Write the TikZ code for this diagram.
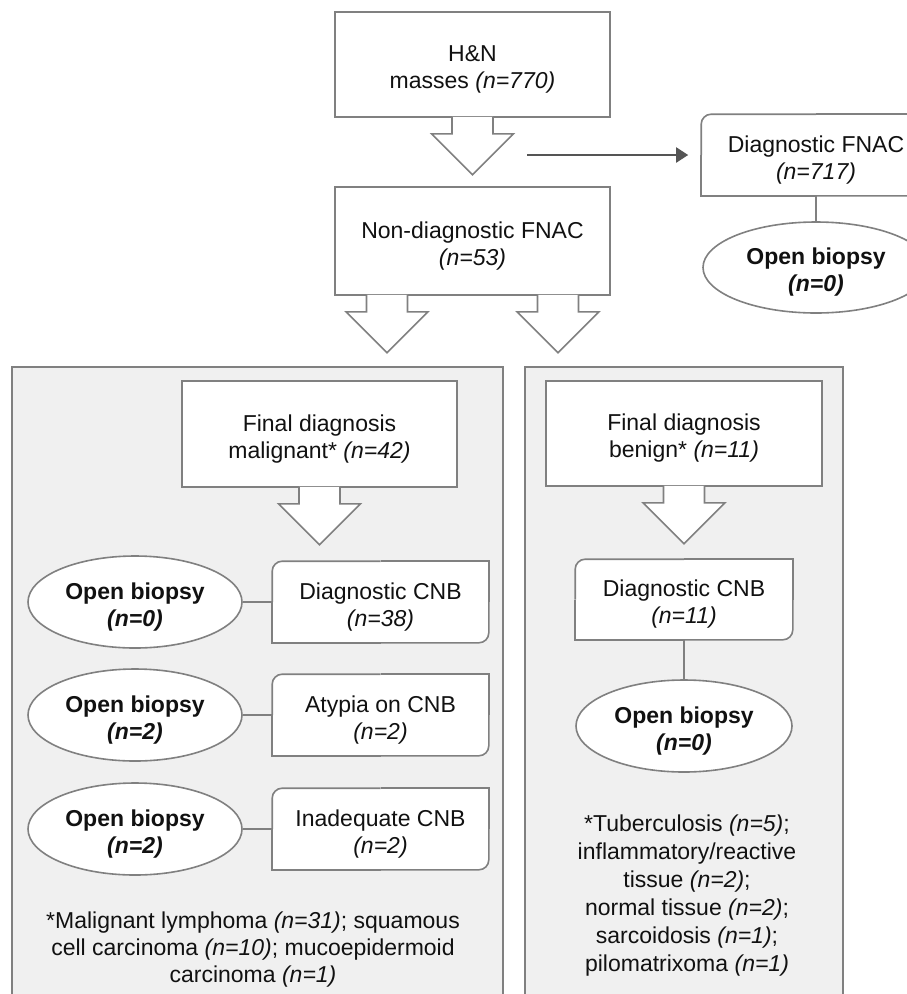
\documentclass[tikz,border=0pt]{standalone}
\usepackage{fontspec}
\setmainfont{Liberation Sans}
\usetikzlibrary{arrows.meta,positioning,calc,shapes.geometric,backgrounds}
\definecolor{edgegray}{HTML}{808080}
\definecolor{panelgray}{HTML}{F0F0F0}
\definecolor{arrowgray}{HTML}{555555}
\definecolor{inkblack}{HTML}{111111}
\newcommand\boxstrut{\rule{0pt}{26pt}}
\tikzset{
  box/.style={draw=edgegray, line width=1.6pt, fill=white, align=center,
    inner sep=0pt, text=inkblack, font=\fontsize{23}{27}\selectfont},
  cornerbox/.style={box, draw=none, fill=none},
  oval/.style={box, ellipse, font=\fontsize{23}{27}\selectfont\bfseries},
  panel/.style={draw=edgegray, line width=1.6pt, fill=panelgray},
  link/.style={draw=edgegray, line width=1.6pt},
  blockarrow/.style={draw=edgegray, line width=1.6pt, fill=white},
  arrow/.style={-{Triangle[length=12pt,width=15pt]}, line width=2pt, arrowgray},
  note/.style={align=center, text=inkblack, font=\fontsize{23}{27}\selectfont},
}
\begin{document}
\begin{tikzpicture}[x=1pt, y=-1pt]
\useasboundingbox (0,0) rectangle (906,994);

\node[box, minimum width=275pt, minimum height=105pt] (hn) at (472.5,64.5)
  {\boxstrut H\&N\\masses \textit{(n=770)}};
\node[box, minimum width=275pt, minimum height=108pt] (nondiag) at (472.5,241)
  {\boxstrut Non-diagnostic FNAC\\\textit{(n=53)}};

\node[cornerbox, minimum width=228pt, minimum height=80pt] (dfnac) at (816,155)
  {\boxstrut Diagnostic FNAC\\\textit{(n=717)}};
\node[oval, minimum width=226pt, minimum height=91pt] (ob0) at (816,267.5)
  {\boxstrut Open biopsy\\\textit{(n=0)}};

% malignant side
\node[box, minimum width=275pt, minimum height=106pt] (malig) at (319.5,434)
  {\boxstrut Final diagnosis\\malignant* \textit{(n=42)}};
\node[cornerbox, minimum width=215pt, minimum height=80pt] (dcnb) at (380.5,602)
  {\boxstrut Diagnostic CNB\\\textit{(n=38)}};
\node[cornerbox, minimum width=215pt, minimum height=80pt] (atyp) at (380.5,715)
  {\boxstrut Atypia on CNB\\\textit{(n=2)}};
\node[cornerbox, minimum width=215pt, minimum height=80pt] (inad) at (380.5,829)
  {\boxstrut Inadequate CNB\\\textit{(n=2)}};
\node[oval, minimum width=214pt, minimum height=92pt] (ob1) at (135,602)
  {\boxstrut Open biopsy\\\textit{(n=0)}};
\node[oval, minimum width=214pt, minimum height=92pt] (ob2) at (135,715)
  {\boxstrut Open biopsy\\\textit{(n=2)}};
\node[oval, minimum width=214pt, minimum height=92pt] (ob3) at (135,829)
  {\boxstrut Open biopsy\\\textit{(n=2)}};
\node[note] (malignote) at (253,950)
  {*Malignant lymphoma \textit{(n=31)}; squamous\\
   cell carcinoma \textit{(n=10)}; mucoepidermoid\\
   carcinoma \textit{(n=1)}};

% benign side
\node[box, minimum width=276pt, minimum height=105pt] (benign) at (684,433.5)
  {\boxstrut Final diagnosis\\benign* \textit{(n=11)}};
\node[cornerbox, minimum width=216pt, minimum height=79pt] (dcnbb) at (684,599.5)
  {\boxstrut Diagnostic CNB\\\textit{(n=11)}};
\node[oval, minimum width=216pt, minimum height=92pt] (ob4) at (684,726)
  {\boxstrut Open biopsy\\\textit{(n=0)}};
\node[note, font=\fontsize{23}{28}\selectfont] (benignote) at (687,896)
  {*Tuberculosis \textit{(n=5)};\\
   inflammatory/reactive\\
   tissue \textit{(n=2)};\\
   normal tissue \textit{(n=2)};\\
   sarcoidosis \textit{(n=1)};\\
   pilomatrixoma \textit{(n=1)}};

% panels and white fills of the corner boxes go underneath
\begin{scope}[on background layer]
  \path[panel] (12,367) rectangle (503,1000);
  \path[panel] (525,367) rectangle (843,1000);
  \foreach \n in {dfnac, dcnb, atyp, inad, dcnbb} {
    \fill[white, rounded corners=10pt] (\n.south west) rectangle (\n.north east);
    \fill[white] (\n.north) rectangle (\n.east) (\n.south) rectangle (\n.west);
  }
\end{scope}

% boxes rounded at top left and bottom right only
\foreach \n in {dfnac, dcnb, atyp, inad, dcnbb} {
  \draw[link, rounded corners=10pt] (\n.west) |- (\n.north) (\n.east) |- (\n.south);
  \draw[link] (\n.north) -| (\n.east) (\n.south) -| (\n.west);
}

% block arrows hanging below their boxes
\foreach \src/\dx in {hn/0, nondiag/-85.5, nondiag/85.5, malig/0, benign/0} {
  \draw[blockarrow] ($(\src.south)+(\dx,0)$) ++(-20.5,-1) -- ++(0,17) -- ++(-20.5,0)
    -- ++(41,41) -- ++(41,-41) -- ++(-20.5,0) -- ++(0,-17);
}

\coordinate (split) at (527,155);
\draw[arrow, shorten >=13pt] (split) -- (dfnac.west);

\draw[link] (dfnac) -- (ob0);
\draw[link] (dcnbb) -- (ob4);
\foreach \a/\b in {ob1/dcnb, ob2/atyp, ob3/inad} {
  \draw[link] (\a) -- (\b);
}

\end{tikzpicture}
\end{document}
